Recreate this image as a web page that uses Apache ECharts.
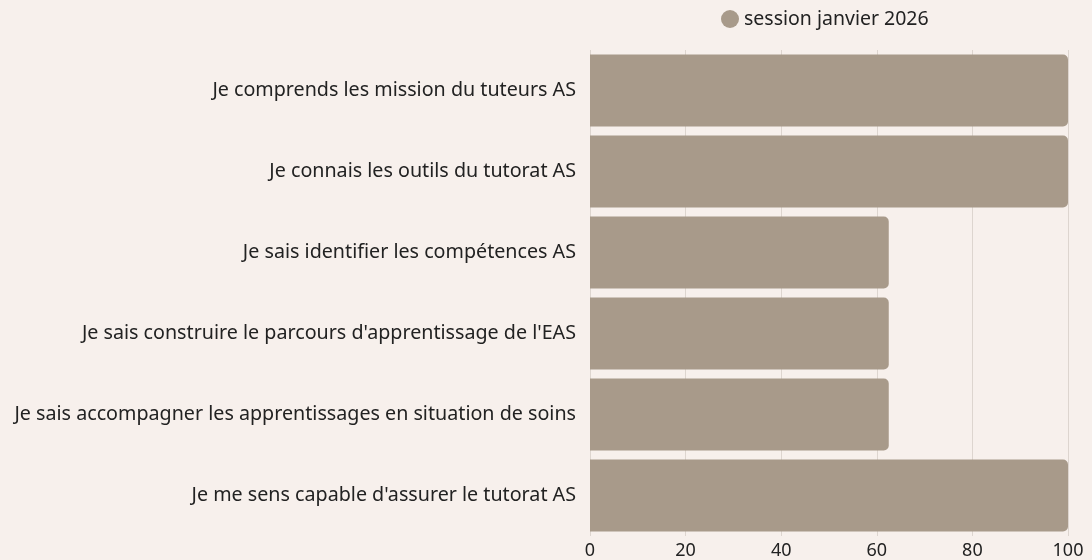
<!DOCTYPE html>
<html>
<head>
<meta charset="utf-8">
<script src="https://cdn.jsdelivr.net/npm/echarts@6/dist/echarts.min.js"></script>
<style>
  html, body { margin: 0; padding: 0; background: #f7f0ec; }
  #chart { width: 1092px; height: 560px; }
</style>
</head>
<body>
<div id="chart"></div>
<script>
// données (haut vers bas)
const categories = [
  "Je comprends les mission du tuteurs AS",
  "Je connais les outils du tutorat AS",
  "Je sais identifier les compétences AS",
  "Je sais construire le parcours d'apprentissage de l'EAS",
  "Je sais accompagner les apprentissages en situation de soins",
  "Je me sens capable d'assurer le tutorat AS"
];
const sessionJanvier2026 = [100, 100, 62.5, 62.5, 62.5, 100];
const seriesName = "session janvier 2026";

const chart = echarts.init(document.getElementById("chart"));
const font = "Noto Sans";
const option = {
  backgroundColor: "#f7f0ec",
  textStyle: { fontFamily: font, color: "#222" },
  legend: {
    data: [seriesName],
    top: 4,
    left: 716,
    icon: "circle",
    itemWidth: 18,
    itemHeight: 18,
    itemGap: 10,
    textStyle: { fontSize: 19.5, color: "#222", fontFamily: font }
  },
  grid: { left: 590, right: 24, top: 50, bottom: 24, containLabel: false },
  xAxis: {
    type: "value",
    min: 0,
    max: 100,
    interval: 20,
    axisLine: { show: false },
    axisTick: { show: false },
    axisLabel: { fontSize: 18, color: "#222", margin: 6 },
    splitLine: { lineStyle: { color: "#ddd5cf", width: 1 } }
  },
  yAxis: {
    type: "category",
    inverse: true,
    data: categories,
    axisLine: { show: false },
    axisTick: { show: false },
    axisLabel: { fontSize: 19.7, color: "#222", margin: 14 }
  },
  series: [{
    name: seriesName,
    type: "bar",
    data: sessionJanvier2026,
    barCategoryGap: "11%",
    itemStyle: { color: "#a89a8a", borderRadius: [0, 5, 5, 0] }
  }]
};
chart.setOption(option);
</script>
</body>
</html>
